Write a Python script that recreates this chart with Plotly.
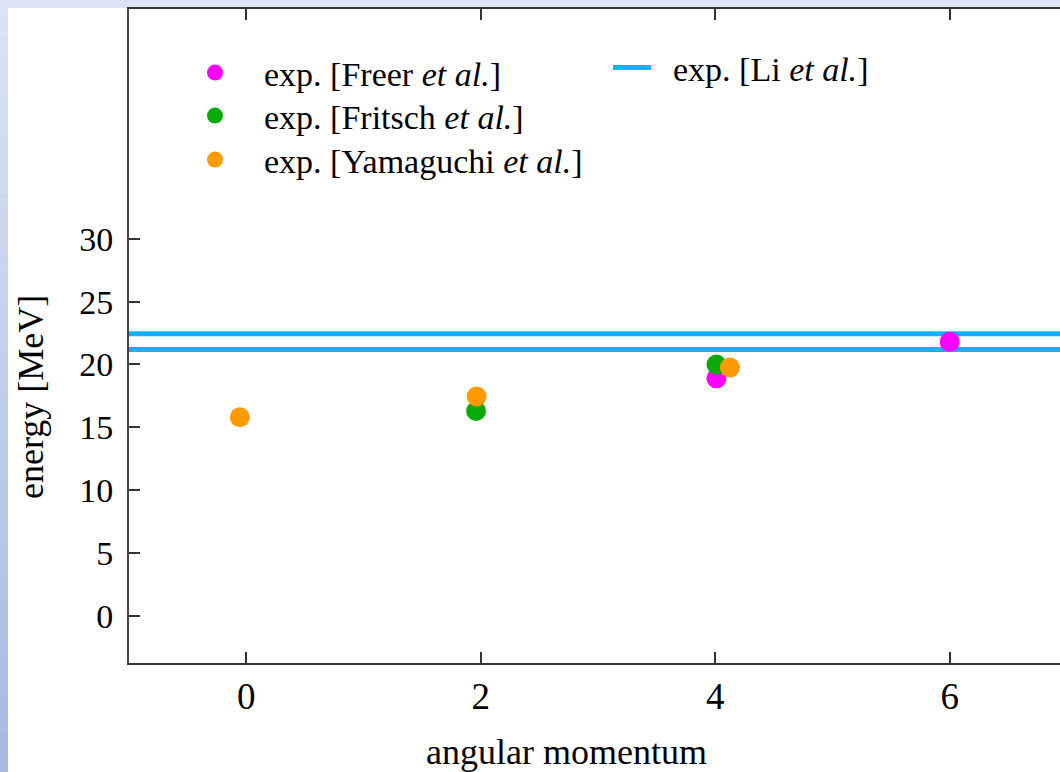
import plotly.graph_objects as go

# ---- data ----
freer_L = [4.01, 6.0]
freer_E = [18.9, 21.8]
fritsch_L = [1.96, 4.01]
fritsch_E = [16.3, 20.0]
yama_L = [-0.055, 1.965, 4.125]
yama_E = [15.8, 17.45, 19.75]
li_E = [22.45, 21.2]
x_ticks = [0, 2, 4, 6]
y_ticks = [0, 5, 10, 15, 20, 25, 30]

W, H = 1060, 772
L, R, T, B = 129, 1060, 9, 663
x_range = [-1.0, 6.94]
y_range = [-3.74, 48.27]

FONT = "Liberation Serif"

def px2paper_x(px):
    return (px - L) / (R - L)

def px2paper_y(py):
    return (B - py) / (B - T)

fig = go.Figure()

# Li et al. horizontal lines
for i, e in enumerate(li_E):
    fig.add_trace(go.Scatter(
        x=[x_range[0], x_range[1]], y=[e, e], mode="lines",
        line=dict(color="#0ab2fa", width=5),
        name="&nbsp;&nbsp;exp. [Li <i>et al.</i>]", showlegend=(i == 0), legend="legend4",
        hoverinfo="skip"))

fig.add_trace(go.Scatter(x=freer_L, y=freer_E, mode="markers",
                         marker=dict(color="#ff00ff", size=20),
                         name="exp. [Freer <i>et al.</i>]", legend="legend"))
fig.add_trace(go.Scatter(x=fritsch_L, y=fritsch_E, mode="markers",
                         marker=dict(color="#0aaa0a", size=20),
                         name="exp. [Fritsch <i>et al.</i>]", legend="legend2"))
fig.add_trace(go.Scatter(x=yama_L, y=yama_E, mode="markers",
                         marker=dict(color="#ff9a00", size=20),
                         name="exp. [Yamaguchi <i>et al.</i>]", legend="legend3"))

shapes = []
# top band
shapes.append(dict(type="rect", xref="paper", yref="paper", layer="below",
                   x0=px2paper_x(0), x1=px2paper_x(W), y0=px2paper_y(8), y1=px2paper_y(0),
                   line=dict(width=0), fillcolor="#dbe3f4"))
# left gradient strip
n = 40
c0 = (219, 227, 244)
c1 = (166, 186, 225)
for k in range(n):
    t = k / (n - 1)
    c = tuple(int(round(c0[j] + (c1[j] - c0[j]) * t)) for j in range(3))
    ya = H * k / n
    yb = H * (k + 1) / n + 1
    shapes.append(dict(type="rect", xref="paper", yref="paper", layer="below",
                       x0=px2paper_x(0), x1=px2paper_x(8),
                       y0=px2paper_y(yb), y1=px2paper_y(ya),
                       line=dict(width=0), fillcolor="rgb(%d,%d,%d)" % c))

LEG_FONT = dict(family=FONT, size=34, color="black")

def leg(px, py, iw):
    return dict(x=px2paper_x(px), y=px2paper_y(py), xanchor="left", yanchor="middle",
                bgcolor="rgba(0,0,0,0)", font=LEG_FONT, itemsizing="trace",
                itemwidth=iw, borderwidth=0)

DOT_W = 88
LINE_W = 38
fig.update_layout(
    width=W, height=H,
    margin=dict(l=L, r=W - R, t=T, b=H - B, pad=0),
    paper_bgcolor="white", plot_bgcolor="white",
    font=dict(family=FONT, color="black", size=33),
    shapes=shapes,
    showlegend=True,
    legend=leg(215 - (DOT_W / 2 + 5), 73, DOT_W),
    legend2=leg(215 - (DOT_W / 2 + 5), 116, DOT_W),
    legend3=leg(215 - (DOT_W / 2 + 5), 160, DOT_W),
    legend4=leg(608, 68, LINE_W),
    annotations=[
        dict(text="angular momentum", xref="paper", yref="paper",
             x=px2paper_x(566), y=px2paper_y(752), xanchor="center", yanchor="middle",
             showarrow=False, font=dict(family=FONT, size=36, color="black")),
        dict(text="energy [MeV]", xref="paper", yref="paper", textangle=-90,
             x=px2paper_x(31), y=px2paper_y(397), xanchor="center", yanchor="middle",
             showarrow=False, font=dict(family=FONT, size=36, color="black")),
    ],
)

fig.update_xaxes(
    range=x_range, tickvals=x_ticks, ticktext=[str(v) for v in x_ticks],
    ticks="inside", ticklen=11, tickwidth=1.5, tickcolor="#333",
    showline=True, linecolor="#333", linewidth=2, mirror="ticks",
    showgrid=False, zeroline=False,
    tickfont=dict(family=FONT, size=37), ticklabelstandoff=0,
)
fig.update_yaxes(
    range=y_range, tickvals=y_ticks, ticktext=[str(v) for v in y_ticks],
    ticks="inside", ticklen=11, tickwidth=1.5, tickcolor="#333",
    showline=True, linecolor="#444", linewidth=2, mirror=False,
    showgrid=False, zeroline=False,
    tickfont=dict(family=FONT, size=34), ticklabelstandoff=7,
)

fig.write_html("out.html")
